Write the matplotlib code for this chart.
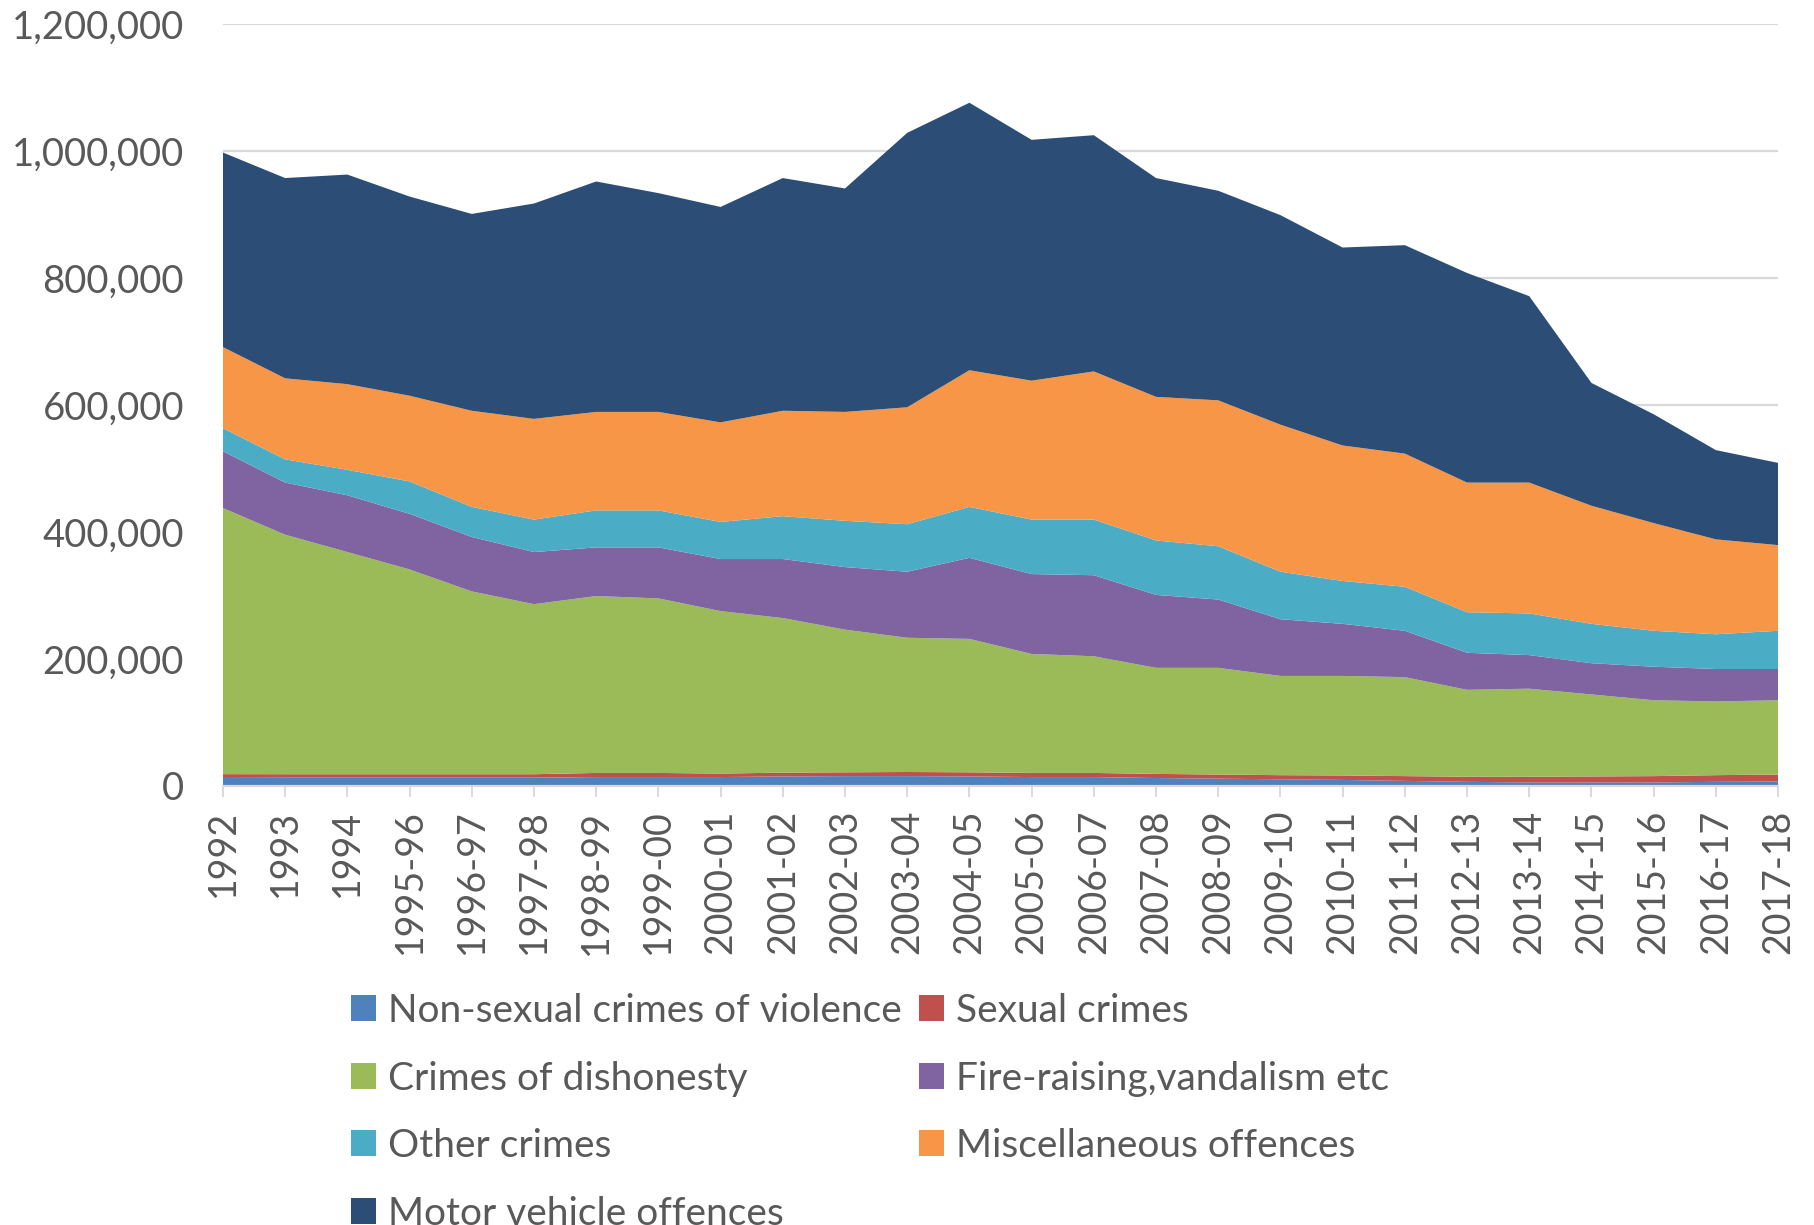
import numpy as np
import matplotlib.pyplot as plt
from matplotlib.patches import Patch

plt.rcParams['font.family'] = ['Lato', 'DejaVu Sans']

years = ["1992", "1993", "1994", "1995-96", "1996-97", "1997-98", "1998-99",
         "1999-00", "2000-01", "2001-02", "2002-03", "2003-04", "2004-05",
         "2005-06", "2006-07", "2007-08", "2008-09", "2009-10", "2010-11",
         "2011-12", "2012-13", "2013-14", "2014-15", "2015-16", "2016-17",
         "2017-18"]

# valores (numero de delitos)
violencia = [12600, 13000, 13000, 13000, 13000, 13000, 14000, 14000, 14000,
             15000, 15500, 15500, 15000, 14000, 14000, 12500, 11500, 10500,
             9500, 8000, 6500, 5500, 5500, 5500, 6500, 7000]
sexuales = [6000, 5500, 5500, 5500, 5500, 5500, 6500, 6500, 5500, 6000, 6000,
            6500, 6500, 6500, 6500, 6500, 6500, 6500, 7000, 7500, 8000, 9000,
            9500, 10000, 10500, 11000]
deshonestidad = [419100, 377200, 349900, 322500, 287900, 267800, 278600,
                 274900, 255900, 243400, 224700, 211400, 210100, 187400,
                 183800, 167000, 168000, 156300, 156800, 155900, 136900,
                 138700, 129100, 119500, 116100, 117000]
vandalismo = [89400, 82100, 89400, 87600, 85700, 82100, 76600, 80300, 82000,
              93000, 98500, 104000, 127700, 125800, 127600, 114900, 107600,
              89300, 82000, 73000, 58300, 52900, 49200, 52800, 51100, 49200]
otros = [36400, 36500, 40100, 51000, 47400, 51100, 58300, 58300, 58400, 67500,
         72900, 74800, 80200, 85800, 87600, 85700, 83900, 74800, 67500, 69300,
         63900, 65600, 62000, 56600, 54700, 60200]
miscelaneos = [127700, 127700, 134900, 135000, 151400, 158600, 155100, 155100,
               156800, 166000, 171500, 184200, 215200, 218800, 233400, 226200,
               229800, 231600, 213400, 209700, 204200, 206100, 186000, 169600,
               149500, 134900]
vehiculos = [306400, 315400, 330100, 313700, 310000, 339200, 362900, 344600,
             339300, 366500, 351900, 432200, 421300, 379300, 372000, 344600,
             330100, 330000, 311800, 328300, 330100, 293600, 193400, 171400,
             140500, 129500]

etiquetas = ["Non-sexual crimes of violence", "Sexual crimes",
             "Crimes of dishonesty", "Fire-raising,vandalism etc",
             "Other crimes", "Miscellaneous offences", "Motor vehicle offences"]
colores = ["#4F81BD", "#C0504D", "#9BBB59", "#8064A2", "#4BACC6", "#F79646",
           "#2C4D75"]

gris = "#595959"
x = np.arange(len(years))

fig = plt.figure(figsize=(18.14, 12.25), dpi=100)
ax = fig.add_axes([0.1229, 0.3584, 0.8573, 0.622])

ax.stackplot(x, violencia, sexuales, deshonestidad, vandalismo, otros,
             miscelaneos, vehiculos, colors=colores, zorder=2)

ax.set_xlim(0, len(years) - 1)
ax.set_ylim(0, 1200000)
ax.set_yticks(np.arange(0, 1200001, 200000))
ax.set_yticklabels([f"{v:,}" for v in range(0, 1200001, 200000)])
ax.yaxis.grid(True, color="#D9D9D9", linewidth=1.6, zorder=0)
ax.set_axisbelow(True)

ax.set_xticks(x)
ax.set_xticklabels(years, rotation=90)

for lado in ["top", "right", "left"]:
    ax.spines[lado].set_visible(False)
ax.spines["bottom"].set_color("#D9D9D9")
ax.spines["bottom"].set_linewidth(1.6)
ax.spines["bottom"].set_zorder(3)

ax.tick_params(axis="y", length=0, pad=28, labelsize=27.5, labelcolor=gris)
ax.tick_params(axis="x", length=8, width=1.4, color="#D9D9D9", pad=9,
               labelsize=27, labelcolor=gris)

# leyenda en dos columnas (se rellena por columnas)
orden = [0, 2, 4, 6, 1, 3, 5]
handles = [Patch(facecolor=colores[i], edgecolor="none") for i in orden]
labels = [etiquetas[i] for i in orden]
fig.legend(handles, labels, ncol=2, loc="upper left",
           bbox_to_anchor=(0.1933, 0.1893), frameon=False, fontsize=28,
           labelcolor=gris, handlelength=0.65, handleheight=0.65,
           handletextpad=0.3, columnspacing=0.45, labelspacing=0.81,
           borderaxespad=0, borderpad=0)

fig.savefig("out.png", dpi=100)
